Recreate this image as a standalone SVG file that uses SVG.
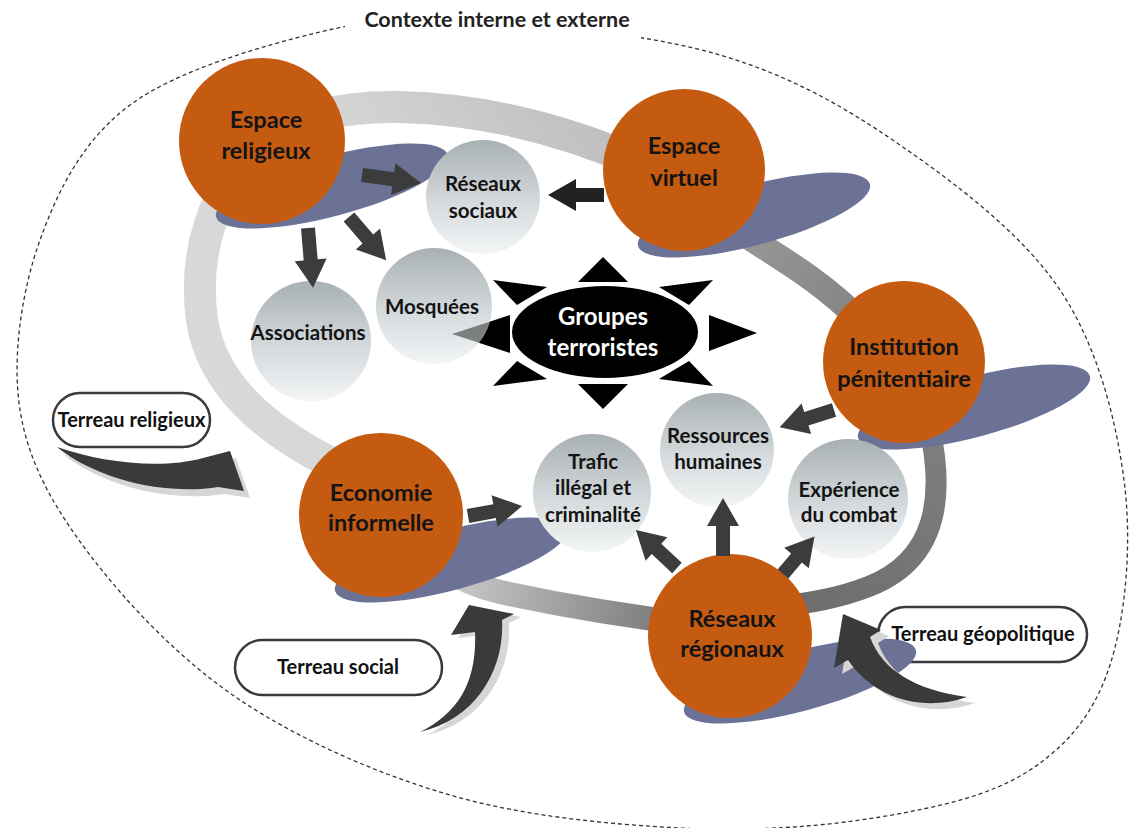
<svg xmlns="http://www.w3.org/2000/svg" width="1130" height="828" viewBox="0 0 1130 828">
<defs>
<style>
.t{font-family:Lato,"Liberation Sans",sans-serif;font-weight:bold;text-anchor:middle}
.on{font-size:23.5px;fill:#141414}
.gt{font-size:20.5px;fill:#141414}
.pt{font-size:20px;fill:#111}
.st{font-size:24px;fill:#fff}
.ti{font-size:21.5px;fill:#222}
.orange{fill:#C55A11}
.shadow{fill:#6C7295}
.gray{fill:url(#gg)}
.arr{fill:#3c3c3c}
.sw{fill:#3a3a3a}
.sws{fill:#d6d6d6}
.pill{fill:#fff;stroke:#3a3a3a;stroke-width:2.5}
.ray{fill:#000}
.ring{fill:none}
</style>
<linearGradient id="gg" x1="0" y1="0" x2="0" y2="1">
<stop offset="0" stop-color="#a8b0b3"/>
<stop offset="0.55" stop-color="#d5dadc"/>
<stop offset="1" stop-color="#f3f5f6"/>
</linearGradient>
<linearGradient id="gA" gradientUnits="userSpaceOnUse" x1="210" y1="420" x2="640" y2="140">
<stop offset="0" stop-color="#d9d9d9"/>
<stop offset="0.5" stop-color="#d6d6d6"/>
<stop offset="1" stop-color="#bdbdbd"/>
</linearGradient>
<linearGradient id="gB" gradientUnits="userSpaceOnUse" x1="700" y1="200" x2="860" y2="320">
<stop offset="0" stop-color="#9e9e9e"/>
<stop offset="1" stop-color="#848484"/>
</linearGradient>
<linearGradient id="gC" gradientUnits="userSpaceOnUse" x1="930" y1="430" x2="780" y2="608">
<stop offset="0" stop-color="#7e7e7e"/>
<stop offset="1" stop-color="#6c6c6c"/>
</linearGradient>
<linearGradient id="gD" gradientUnits="userSpaceOnUse" x1="700" y1="625" x2="460" y2="585">
<stop offset="0" stop-color="#6e6e6e"/>
<stop offset="1" stop-color="#c6c6c6"/>
</linearGradient>
<clipPath id="mosClip"><circle cx="434" cy="306" r="58"/></clipPath>
</defs>

<rect x="0" y="0" width="1130" height="828" fill="#fff"/>

<g id="context">
<path d="M480,21 C546.7,24.8 650,34.3 720,55 C790,75.7 843.3,105.8 900,145 C956.7,184.2 1022.7,234.2 1060,290 C1097.3,345.8 1115.7,417.5 1124,480 C1132.3,542.5 1125.7,616.7 1110,665 C1094.3,713.3 1068.3,744.7 1030,770 C991.7,795.3 938.3,807.3 880,817 C821.7,826.7 751.7,831.7 680,828 C608.3,824.3 523.3,816.3 450,795 C376.7,773.7 300,740 240,700 C180,660 126.7,603.3 90,555 C53.3,506.7 28.3,462.5 20,410 C11.7,357.5 21.7,290.8 40,240 C58.3,189.2 83.3,139.7 130,105 C176.7,70.3 261.7,46 320,32 C378.3,18 413.3,17.2 480,21 Z" fill="none" stroke="#333" stroke-width="1.3" stroke-dasharray="4 3"/>
<rect x="345" y="0" width="296" height="44" fill="#fff"/>
<text class="t ti" x="497" y="27">Contexte interne et externe</text>
</g>

<g id="terreau-religieux">
<rect class="pill" x="53" y="393" width="157" height="54" rx="27"/>
<text class="t pt" x="131.5" y="427">Terreau religieux</text>
</g>
<g id="terreau-social">
<rect class="pill" x="235" y="640" width="207" height="55" rx="27.5"/>
<text class="t pt" x="338" y="674">Terreau social</text>
</g>
<g id="terreau-geopolitique">
<rect class="pill" x="878" y="607" width="209" height="55" rx="27.5"/>
<text class="t pt" x="983" y="641">Terreau géopolitique</text>
</g>

<g id="ring">
<path class="ring" d="M335,465 C265,430 212,385 202,320 C193,255 212,190 262,140 C300,115 350,106 400,107 C480,109 560,127 645,165" stroke="url(#gA)" stroke-width="32"/>
<path class="ring" d="M700,200 C740,240 800,260 860,320" stroke="url(#gB)" stroke-width="25"/>
<path class="ring" d="M930,430 C945,500 935,560 870,586 C840,598 810,603 770,608" stroke="url(#gC)" stroke-width="21"/>
<path class="ring" d="M700,625 C640,618 560,605 500,592 C460,583 420,560 381,515" stroke="url(#gD)" stroke-width="24"/>
</g>

<g id="espace-religieux">
<ellipse class="shadow" cx="332" cy="186" rx="120" ry="30" transform="rotate(-15 332 186)"/>
<circle class="orange" cx="262" cy="141" r="83"/>
<text class="t on" x="266" y="128">Espace</text>
<text class="t on" x="266" y="159">religieux</text>
</g>
<g id="espace-virtuel">
<ellipse class="shadow" cx="754" cy="215" rx="120" ry="30" transform="rotate(-15 754 215)"/>
<circle class="orange" cx="684" cy="170" r="81"/>
<text class="t on" x="684" y="154">Espace</text>
<text class="t on" x="684" y="186">virtuel</text>
</g>
<g id="institution-penitentiaire">
<ellipse class="shadow" cx="974" cy="407" rx="120" ry="30" transform="rotate(-15 974 407)"/>
<circle class="orange" cx="904" cy="362" r="81"/>
<text class="t on" x="904" y="355">Institution</text>
<text class="t on" x="904" y="387">pénitentiaire</text>
</g>
<g id="economie-informelle">
<ellipse class="shadow" cx="451" cy="560" rx="120" ry="30" transform="rotate(-15 451 560)"/>
<circle class="orange" cx="381" cy="515" r="82"/>
<text class="t on" x="381" y="501">Economie</text>
<text class="t on" x="381" y="531">informelle</text>
</g>
<g id="reseaux-regionaux">
<ellipse class="shadow" cx="800" cy="681" rx="120" ry="30" transform="rotate(-15 800 681)"/>
<circle class="orange" cx="730" cy="636" r="82"/>
<text class="t on" x="732" y="627">Réseaux</text>
<text class="t on" x="732" y="657">régionaux</text>
</g>

<g id="groupes-terroristes">
<polygon class="ray" points="578,282 628,282 603,257"/>
<polygon class="ray" points="578,384 628,384 603,409"/>
<polygon class="ray" points="452,334 510,315 510,353"/>
<polygon class="ray" points="757,333 709,315 709,351"/>
<polygon class="ray" points="493,280 547,287 517,305"/>
<polygon class="ray" points="713,280 659,287 689,305"/>
<polygon class="ray" points="493,386 547,379 517,361"/>
<polygon class="ray" points="713,386 659,379 689,361"/>
<ellipse cx="605" cy="332" rx="93" ry="46" fill="#000"/>
<text class="t st" x="603" y="325">Groupes</text>
<text class="t st" x="603" y="356">terroristes</text>
</g>

<g id="reseaux-sociaux">
<circle class="gray" cx="483" cy="197" r="57"/>
<text class="t gt" x="483" y="191">Réseaux</text>
<text class="t gt" x="483" y="218">sociaux</text>
</g>
<g id="mosquees">
<circle class="gray" cx="434" cy="306" r="58"/>
<polygon points="452,334 510,315 510,353" fill="#000" fill-opacity="0.45" clip-path="url(#mosClip)"/>
<text class="t gt" x="432" y="314">Mosquées</text>
</g>
<g id="associations">
<circle class="gray" cx="311" cy="341" r="60"/>
<text class="t gt" x="308" y="340">Associations</text>
</g>
<g id="ressources-humaines">
<circle class="gray" cx="717" cy="450" r="57"/>
<text class="t gt" x="718" y="443">Ressources</text>
<text class="t gt" x="718" y="469">humaines</text>
</g>
<g id="trafic">
<circle class="gray" cx="592" cy="493" r="59"/>
<text class="t gt" x="593" y="469">Trafic</text>
<text class="t gt" x="593" y="495">illégal et</text>
<text class="t gt" x="593" y="522">criminalité</text>
</g>
<g id="experience-combat">
<circle class="gray" cx="848" cy="499" r="60"/>
<text class="t gt" x="849" y="497">Expérience</text>
<text class="t gt" x="849" y="522">du combat</text>
</g>

<g id="connectors">
<path class="sws" transform="translate(6,7)" d="M57,447 C100,462 160,470 203,458 L230,451 L244,491 L218,487 C170,495 100,482 57,447 Z"/>
<path class="sw" d="M57,447 C100,462 160,470 203,458 L230,451 L244,491 L218,487 C170,495 100,482 57,447 Z"/>
<path class="sws" transform="translate(7,3)" d="M420,732 C460,712 477,680 475,632 L451,635 L469,605 L514,614 L502,620 C505,670 475,720 420,732 Z"/>
<path class="sw" d="M420,732 C460,712 477,680 475,632 L451,635 L469,605 L514,614 L502,620 C505,670 475,720 420,732 Z"/>
<path class="sws" transform="translate(8,6)" d="M967,697 C925,712 875,700 848,660 L834,668 L843,614 L881,630 L870,637 C882,670 915,690 967,697 Z"/>
<path class="sw" d="M967,697 C925,712 875,700 848,660 L834,668 L843,614 L881,630 L870,637 C882,670 915,690 967,697 Z"/>

<path class="arr" transform="translate(362,175) rotate(7.7)" d="M0,-7 H31.5 V-16 L59.5,0 L31.5,16 V7 H0 Z"/>
<path class="arr" transform="translate(308,228) rotate(85.2)" d="M0,-7 H32 V-16 L60,0 L32,16 V7 H0 Z"/>
<path class="arr" transform="translate(349,217) rotate(49.3)" d="M0,-7 H29 V-16 L57,0 L29,16 V7 H0 Z"/>
<path class="arr" style="fill:#222" transform="translate(604,195) rotate(180)" d="M0,-7 H28 V-16 L56,0 L28,16 V7 H0 Z"/>
<path class="arr" transform="translate(834,410) rotate(162.5)" d="M0,-7 H29 V-16 L57,0 L29,16 V7 H0 Z"/>
<path class="arr" transform="translate(468,516) rotate(-10.5)" d="M0,-7 H27 V-16 L55,0 L27,16 V7 H0 Z"/>
<path class="arr" transform="translate(677,568) rotate(-137.2)" d="M0,-7 H28 V-16 L56,0 L28,16 V7 H0 Z"/>
<path class="arr" transform="translate(723,556) rotate(-90)" d="M0,-7 H30 V-16 L58,0 L30,16 V7 H0 Z"/>
<path class="arr" transform="translate(783,574) rotate(-50)" d="M0,-7 H21 V-16 L49,0 L21,16 V7 H0 Z"/>
</g>
</svg>
